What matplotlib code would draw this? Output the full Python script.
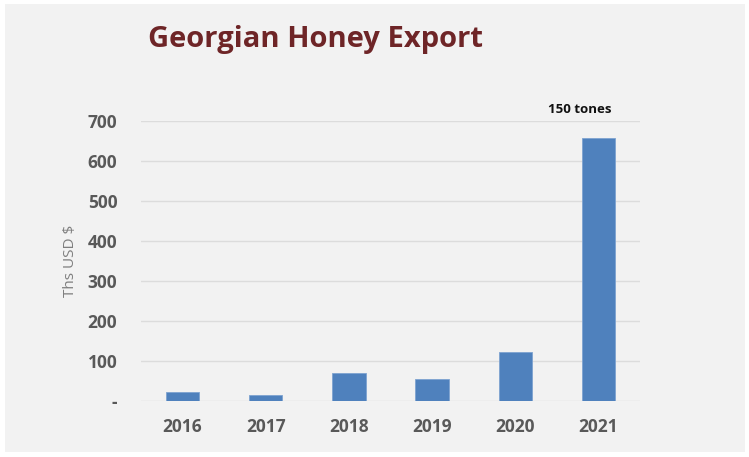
import matplotlib.pyplot as plt
from matplotlib.patches import Rectangle

years = ['2016', '2017', '2018', '2019', '2020', '2021']
export_usd = [22, 15, 70, 55, 122, 657]
ytick_vals = [0, 100, 200, 300, 400, 500, 600, 700]
ytick_labels = ['-', '100', '200', '300', '400', '500', '600', '700']

plt.rcParams['font.family'] = ['Open Sans', 'DejaVu Sans']

fig = plt.figure(figsize=(7.49, 4.57), dpi=100, facecolor='white')
# grey slide panel behind everything
fig.patches.append(Rectangle((5 / 749, 5 / 457), 740 / 749, 448 / 457,
                             transform=fig.transFigure, facecolor='#f2f2f2',
                             edgecolor='none', zorder=-10))

ax = fig.add_axes([141 / 749, 1 - 401 / 457, 499 / 749, 280 / 457])
ax.set_facecolor('none')

x = range(len(years))
ax.bar(x, export_usd, width=0.4, color='#4f81bd', edgecolor='#7ea3d1', linewidth=0.6, zorder=3)

ax.set_xlim(-0.5, 5.5)
ax.set_ylim(0, 700)
ax.set_yticks(ytick_vals)
ax.set_yticklabels(ytick_labels)
ax.set_xticks(list(x))
ax.set_xticklabels(years)

ax.grid(axis='y', color='#dcdcdc', linewidth=1, zorder=0)
for s in ax.spines.values():
    s.set_visible(False)
ax.tick_params(length=0, colors='#595959', labelsize=12.5)
ax.tick_params(axis='y', pad=17)
ax.tick_params(axis='x', pad=12)
for lbl in ax.get_xticklabels() + ax.get_yticklabels():
    lbl.set_fontweight('bold')

ax.set_ylabel('Ths USD $', color='#7f7f7f', fontsize=11, labelpad=7)

ax.text(4.77, 728, '150 tones', ha='center', va='center', fontsize=9.5,
        fontweight='bold', color='#111111')

fig.text(315 / 749, 1 - 39 / 457, 'Georgian Honey Export', ha='center', va='center',
         fontsize=21, fontweight='bold', color='#6e2527')

fig.savefig('out.png', dpi=100, facecolor='white')
